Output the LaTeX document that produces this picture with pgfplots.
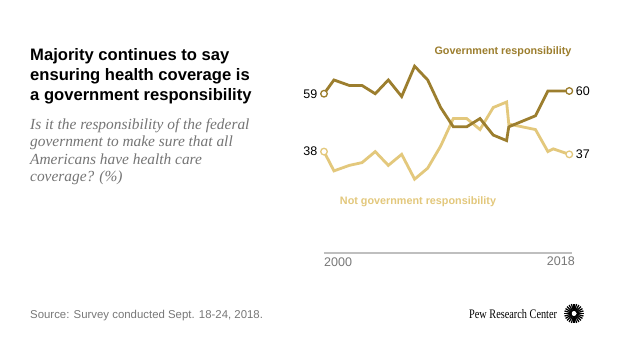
\documentclass[border=0pt]{standalone}
\usepackage{pgfplots}
\pgfplotsset{compat=1.18}
\usepackage{fontspec}
\setmainfont{Liberation Sans}
\newfontfamily\subfont{Liberation Serif}
\newfontfamily\pewfont[FakeStretch=0.79]{Liberation Serif}
\definecolor{govc}{RGB}{156,126,46}
\definecolor{notc}{RGB}{227,200,124}
\definecolor{subgray}{RGB}{117,117,117}
\definecolor{srcgray}{RGB}{120,120,120}

\pgfplotstableread{
year val
2000 59
2000.73 64
2001.86 62
2002.79 62
2003.76 59
2004.72 64
2005.70 58
2006.65 69
2007.61 64
2008.56 54
2009.49 47
2010.47 47
2011.45 50
2012.42 44
2013.40 42
2013.56 47
2015.52 51
2016.43 60
2016.82 60
2018 60
}\govtable

\pgfplotstableread{
year val
2000 38
2000.73 31
2001.86 33
2002.79 34
2003.76 38
2004.72 33
2005.70 37
2006.65 28
2007.61 32
2008.56 40
2009.49 50
2010.47 50
2011.45 46
2012.42 54
2013.40 56
2013.56 48
2015.52 46
2016.43 38
2016.82 39
2018 37
}\nottable

\begin{document}
\begin{tikzpicture}[x=1pt,y=1pt]
\path[fill=white] (0,0) rectangle (640,360);
% title
\begin{scope}[every node/.style={anchor=base west,inner sep=0pt}]
\node at (30,299.5) {\fontsize{16.6}{20}\selectfont\bfseries Majority continues to say};
\node at (30,279.5) {\fontsize{16.6}{20}\selectfont\bfseries ensuring health coverage is};
\node at (30,259.5) {\fontsize{16.6}{20}\selectfont\bfseries a government responsibility};
\node[text=subgray] at (30,231) {\fontsize{15.4}{17}\selectfont\subfont\itshape Is it the responsibility of the federal};
\node[text=subgray] at (30,213.3) {\fontsize{15.4}{17}\selectfont\subfont\itshape government to make sure that all};
\node[text=subgray] at (30,195.7) {\fontsize{15.4}{17}\selectfont\subfont\itshape Americans have health care};
\node[text=subgray] at (30,178.3) {\fontsize{15.4}{17}\selectfont\subfont\itshape coverage? (\%)};
\node[text=srcgray] at (30,41.5) {\fontsize{11.4}{13}\selectfont Source: Survey conducted Sept. 18-24, 2018.};
\node[text=black] at (469,42) {\fontsize{13}{15}\selectfont\pewfont Pew Research Center};
\end{scope}
% logo
\foreach \a in {0,15,...,345} {
  \draw[line width=1.3pt,black] (574,46.5) ++(\a:2.5) -- ++(\a:7.3);
}
\fill[white] (574,46.5) circle (2.2);

\begin{axis}[at={(324pt,107pt)},anchor=south west,scale only axis,
  width=248pt,height=213pt,xmin=2000,xmax=2018.2,ymin=1.2,ymax=78.5,
  axis lines=none,xtick=\empty,ytick=\empty,clip=false]
\draw[black!25,line width=1.2pt] (axis cs:2000,1.2) -- (axis cs:2018.2,1.2);
\addplot[notc,line width=2.8pt,line join=miter,mark=none] table[x=year,y=val] {\nottable};
\addplot[govc,line width=2.8pt,line join=miter,mark=none] table[x=year,y=val] {\govtable};
\addplot[only marks,mark=*,mark size=3.3pt,mark options={fill=white,draw=notc,line width=1.3pt}] coordinates {(2000,38) (2018,37)};
\addplot[only marks,mark=*,mark size=3.3pt,mark options={fill=white,draw=govc,line width=1.3pt}] coordinates {(2000,59) (2018,60)};
\node[anchor=east,inner sep=0pt,font=\fontsize{12.5}{14}\selectfont,xshift=-6.5pt] at (axis cs:2000,59) {59};
\node[anchor=east,inner sep=0pt,font=\fontsize{12.5}{14}\selectfont,xshift=-6.5pt] at (axis cs:2000,38) {38};
\node[anchor=west,inner sep=0pt,font=\fontsize{12.5}{14}\selectfont,xshift=6.5pt] at (axis cs:2018,60) {60};
\node[anchor=west,inner sep=0pt,font=\fontsize{12.5}{14}\selectfont,xshift=6.5pt] at (axis cs:2018,37) {37};
\node[anchor=base west,inner sep=0pt,text=srcgray,font=\fontsize{12.5}{14}\selectfont,yshift=-13.7pt] at (axis cs:2000,1.2) {2000};
\node[anchor=base east,inner sep=0pt,text=srcgray,font=\fontsize{12.5}{14}\selectfont,yshift=-12pt,xshift=3pt] at (axis cs:2018.2,1.2) {2018};
\end{axis}
\node[text=govc,font=\fontsize{10.8}{12}\selectfont\bfseries] at (503,308) {Government responsibility};
\node[text=notc,font=\fontsize{10.8}{12}\selectfont\bfseries] at (418,158) {Not government responsibility};
\end{tikzpicture}
\end{document}
